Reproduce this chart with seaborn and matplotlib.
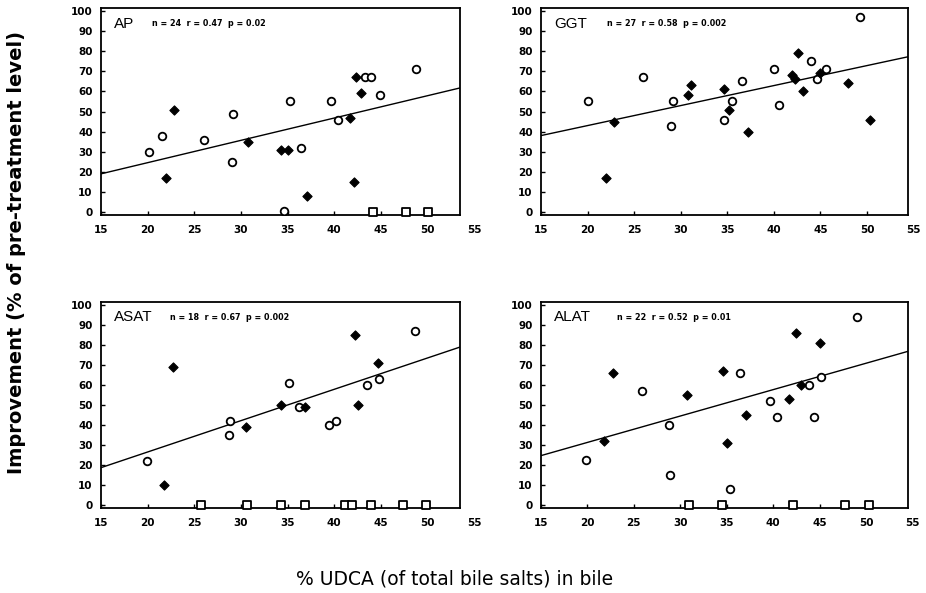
import matplotlib
matplotlib.use("Agg")
import matplotlib.pyplot as plt
from matplotlib.font_manager import FontProperties
import pandas as pd
import seaborn as sns

# ---- data: % UDCA in bile (x) vs improvement in % of pre-treatment level (y)
panel_names = ["AP", "GGT", "ASAT", "ALAT"]
panel_stats = [
    "n = 24  r = 0.47  p = 0.02",
    "n = 27  r = 0.58  p = 0.002",
    "n = 18  r = 0.67  p = 0.002",
    "n = 22  r = 0.52  p = 0.01",
]

# AP
ap_open_x = [20.1, 21.5, 26.0, 29.1, 29.0, 35.3, 36.4, 39.7, 40.4, 43.3, 44.0, 44.9, 48.8, 34.6]
ap_open_y = [30, 38, 36, 49, 25, 55, 32, 55, 46, 67, 67, 58, 71, 0.5]
ap_filled_x = [22.0, 22.8, 30.8, 34.3, 35.1, 37.1, 41.7, 42.3, 42.9, 42.1]
ap_filled_y = [17, 51, 35, 31, 31, 8, 47, 67, 59, 15]
ap_zero_x = [44.2, 47.7, 50.1]

# GGT
ggt_open_x = [20.0, 26.0, 29.2, 29.0, 34.7, 35.5, 36.6, 40.0, 40.6, 44.0, 44.6, 45.6, 49.2]
ggt_open_y = [55, 67, 55, 43, 46, 55, 65, 71, 53, 75, 66, 71, 97]
ggt_filled_x = [22.0, 22.8, 30.8, 31.1, 34.7, 35.2, 37.2, 41.9, 42.3, 42.6, 43.1, 45.0, 48.0, 50.3]
ggt_filled_y = [17, 45, 58, 63, 61, 51, 40, 68, 66, 79, 60, 69, 64, 46]
ggt_zero_x = []

# ASAT
asat_open_x = [19.9, 28.8, 28.7, 35.2, 36.2, 39.4, 40.2, 43.5, 44.8, 48.7]
asat_open_y = [22, 42, 35, 61, 49, 40, 42, 60, 63, 87]
asat_filled_x = [21.8, 22.7, 30.5, 34.3, 36.9, 42.2, 42.6, 44.7]
asat_filled_y = [10, 69, 39, 50, 49, 85, 50, 71]
asat_zero_x = [25.7, 30.7, 34.3, 36.9, 41.2, 41.9, 44.0, 47.4, 49.9]

# ALAT
alat_open_x = [19.9, 25.9, 28.8, 28.9, 35.3, 36.4, 39.6, 40.4, 43.8, 44.4, 45.1, 49.0]
alat_open_y = [22.5, 57, 40, 15, 8, 66, 52, 44, 60, 44, 64, 94]
alat_filled_x = [21.8, 22.7, 30.7, 34.6, 35.0, 37.1, 41.7, 42.4, 43.0, 45.0]
alat_filled_y = [32, 66, 55, 67, 31, 45, 53, 86, 60, 81]
alat_zero_x = [30.9, 34.5, 42.1, 47.7, 50.3]

# regression lines: y = intercept + slope * x
fit_intercept = [2.35, 23.1, -4.8, 4.9]
fit_slope = [1.11, 0.995, 1.566, 1.32]

x_ticks = [15, 20, 25, 30, 35, 40, 45, 50]
y_ticks = [0, 10, 20, 30, 40, 50, 60, 70, 80, 90, 100]

open_sets = [(ap_open_x, ap_open_y), (ggt_open_x, ggt_open_y),
             (asat_open_x, asat_open_y), (alat_open_x, alat_open_y)]
filled_sets = [(ap_filled_x, ap_filled_y), (ggt_filled_x, ggt_filled_y),
               (asat_filled_x, asat_filled_y), (alat_filled_x, alat_filled_y)]
zero_sets = [ap_zero_x, ggt_zero_x, asat_zero_x, alat_zero_x]

sns.set_style("ticks")
plt.rcParams["font.family"] = ["DejaVu Sans"]
plt.rcParams["text.color"] = "black"
plt.rcParams["axes.labelcolor"] = "black"
plt.rcParams["xtick.color"] = "black"
plt.rcParams["ytick.color"] = "black"
plt.rcParams["axes.edgecolor"] = "black"

fig = plt.figure(figsize=(9.26, 5.93), dpi=100)

# axes boxes [left, bottom, width, height] in figure fraction
boxes = [
    [0.1091, 0.6374, 0.3877, 0.3491],
    [0.5842, 0.6374, 0.3963, 0.3491],
    [0.1091, 0.1433, 0.3877, 0.3474],
    [0.5842, 0.1433, 0.3963, 0.3474],
]
x_right = [53.5, 54.4, 53.5, 54.5]
stats_x = [0.142, 0.179, 0.192, 0.207]

tick_font = FontProperties(family="DejaVu Sans", weight="bold", size=7.5)

for i, name in enumerate(panel_names):
    ax = fig.add_axes(boxes[i])
    ox, oy = open_sets[i]
    fx, fy = filled_sets[i]
    zx = zero_sets[i]

    df_open = pd.DataFrame({"x": ox, "y": oy})
    df_filled = pd.DataFrame({"x": fx, "y": fy})
    df_zero = pd.DataFrame({"x": zx, "y": [0] * len(zx)})

    xr = [15, x_right[i]]
    df_fit = pd.DataFrame({"x": xr,
                           "y": [fit_intercept[i] + fit_slope[i] * v for v in xr]})
    sns.lineplot(data=df_fit, x="x", y="y", ax=ax, color="black", lw=1.0)

    sns.scatterplot(data=df_open, x="x", y="y", ax=ax, marker="o", s=30,
                    facecolor="white", edgecolor="black", linewidth=1.3, zorder=3)
    sns.scatterplot(data=df_filled, x="x", y="y", ax=ax, marker="D", s=22,
                    color="black", edgecolor="black", linewidth=0.8, zorder=3)
    if len(zx):
        sns.scatterplot(data=df_zero, x="x", y="y", ax=ax, marker="s", s=30,
                        facecolor="white", edgecolor="black", linewidth=1.3,
                        zorder=3, clip_on=False)

    ax.set_xlim(15, x_right[i])
    ax.set_ylim(-1.5, 101.5)
    ax.set_xticks(x_ticks)
    ax.set_yticks(y_ticks)
    ax.set_xlabel("")
    ax.set_ylabel("")
    ax.tick_params(direction="in", length=3, width=1.0, color="black",
                   labelcolor="black")
    ax.tick_params(axis="x", pad=7)
    ax.tick_params(axis="y", pad=6)
    for lab in ax.get_xticklabels() + ax.get_yticklabels():
        lab.set_fontproperties(tick_font)
    # last x label sits just past the right edge of the frame
    ax.annotate("55", xy=(55, 0), xycoords=("data", "axes fraction"),
                xytext=(0, -7), textcoords="offset points", ha="center", va="top",
                annotation_clip=False, fontproperties=tick_font, color="black")
    for sp in ax.spines.values():
        sp.set_visible(True)
        sp.set_linewidth(1.3)
        sp.set_color("black")

    ax.text(0.035, 0.925, name, transform=ax.transAxes, ha="left", va="center",
            fontsize=11, family="Liberation Sans", color="black")
    ax.text(stats_x[i], 0.925, panel_stats[i],
            transform=ax.transAxes, ha="left", va="center", color="black",
            fontsize=5.8, fontweight="bold", family="DejaVu Sans")

fig.text(0.018, 0.575, "Improvement (% of pre-treatment level)", rotation=90,
         ha="center", va="center", fontsize=14, fontweight="bold",
         family="DejaVu Sans", color="black")
fig.text(0.491, 0.024, "% UDCA (of total bile salts) in bile", ha="center",
         va="center", fontsize=13.5, family="DejaVu Sans", color="black")

fig.savefig("out.png", dpi=100, facecolor="white")
